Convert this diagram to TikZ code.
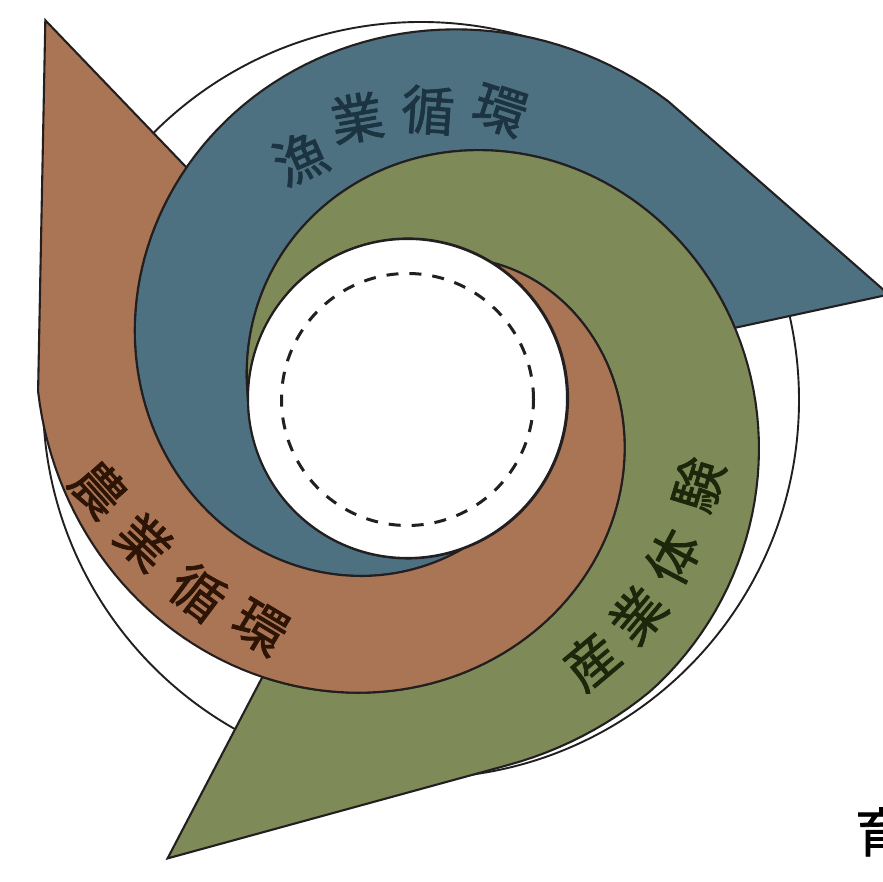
\documentclass[tikz,border=0pt]{standalone}
\usepackage{fontspec}
\newfontfamily\cjk{Noto Sans CJK JP}[FakeBold=1.3]
\definecolor{bluef}{RGB}{78,113,130}
\definecolor{brownf}{RGB}{169,117,84}
\definecolor{greenf}{RGB}{126,138,87}
\definecolor{edgec}{RGB}{35,31,32}
\definecolor{bluet}{RGB}{28,52,66}
\definecolor{brownt}{RGB}{45,20,5}
\definecolor{greent}{RGB}{28,38,10}
\pgfmathdeclarefunction{spb}{1}{\pgfmathparse{160+235*(0.5*(#1/241.2)+0.5*(3*(#1/241.2)^2-2*(#1/241.2)^3))}}
\pgfmathdeclarefunction{spg}{1}{\pgfmathparse{160+220*(0.3*min(#1/230,1)+0.7*(3*min(#1/230,1)^2-2*min(#1/230,1)^3))}}
\pgfmathdeclarefunction{spr}{1}{\pgfmathparse{160+210*(#1/239.1)}}
\tikzset{
  band/.style={draw=edgec, line width=2.1pt},
  lbl/.style={font=\cjk\fontsize{53}{53}\selectfont, inner sep=0pt},
}
\begin{document}
\begin{tikzpicture}[x=1pt,y=1pt]
\useasboundingbox (0,0) rectangle (883,882);
\clip (0,0) rectangle (883,882);
% thin outer circle
\draw[edgec, line width=1.9pt] (421,482) circle[radius=378];
% blue band
\path[band, fill=bluef]
  plot[domain=0:241.2, samples=121, variable=\p] ({408+spb(\p)*cos(290-\p)},{483.5+spb(\p)*sin(290-\p)})
  -- ({408+492*cos(12.2)},{483.5+492*sin(12.2)})
  -- plot[domain=167.8:0, samples=85, variable=\p] ({408+spg(\p)*cos(180-\p)},{483.5+spg(\p)*sin(180-\p)})
  arc[start angle=180, end angle=290, radius=160] -- cycle;
% green band
\path[band, fill=greenf]
  plot[domain=0:254.7, samples=128, variable=\p] ({408+spg(\p)*cos(180-\p)},{483.5+spg(\p)*sin(180-\p)})
  -- ({408+519*cos(-117.6)},{483.5+519*sin(-117.6)})
  -- plot[domain=175.6:0, samples=89, variable=\p] ({408+spr(\p)*cos(58-\p)},{483.5+spr(\p)*sin(58-\p)})
  arc[start angle=58, end angle=180, radius=160] -- cycle;
% brown band
\path[band, fill=brownf]
  plot[domain=0:239.1, samples=121, variable=\p] ({408+spr(\p)*cos(58-\p)},{483.5+spr(\p)*sin(58-\p)})
  -- ({408+524*cos(133.8)},{483.5+524*sin(133.8)})
  -- plot[domain=156.2:0, samples=79, variable=\p] ({408+spb(\p)*cos(290-\p)},{483.5+spb(\p)*sin(290-\p)})
  arc[start angle=-70, end angle=58, radius=160] -- cycle;
% centre
\filldraw[fill=white, draw=edgec, line width=2.1pt] (407.5,483.5) circle[radius=159.5];
\draw[edgec, line width=3pt, dash pattern=on 12pt off 11pt] (407.5,482.5) circle[radius=126];
% labels
\node[lbl, text=bluet, rotate=24]   (b1) at (300,724) {漁};
\node[lbl, text=bluet, rotate=10]   (b2) at (357,764) {業};
\node[lbl, text=bluet, rotate=-4]   (b3) at (428,772) {循};
\node[lbl, text=bluet, rotate=-18]  (b4) at (500,772) {環};
\node[lbl, text=brownt, rotate=-48] (r1) at (99,393) {農};
\node[lbl, text=brownt, rotate=-43] (r2) at (144,340) {業};
\node[lbl, text=brownt, rotate=-37] (r3) at (198,290) {循};
\node[lbl, text=brownt, rotate=-31] (r4) at (260,255) {環};
\node[lbl, text=greent, rotate=40]  (g1) at (591,221) {産};
\node[lbl, text=greent, rotate=50]  (g2) at (638,267) {業};
\node[lbl, text=greent, rotate=62]  (g3) at (673,325) {体};
\node[lbl, text=greent, rotate=73]  (g4) at (698,397) {験};
\node[lbl, text=black, anchor=west] (cut) at (855,50) {育};
\end{tikzpicture}
\end{document}
